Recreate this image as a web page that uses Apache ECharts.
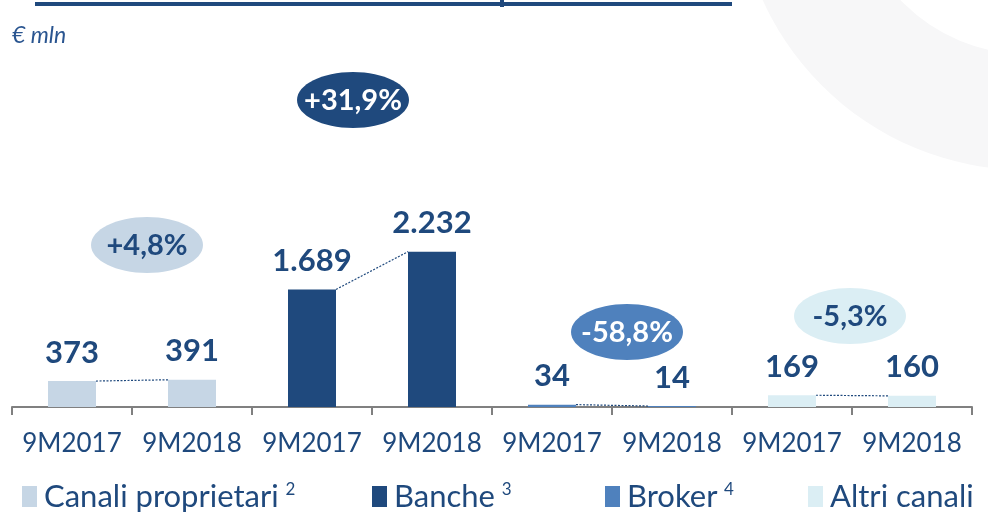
<!DOCTYPE html>
<html lang="it">
<head>
	<meta charset="UTF-8">
	<title>Raccolta per canale</title>
	<style>
		html, body { margin: 0; padding: 0; background: #fff; }
	</style>
</head>
<body>
	<div id="main" style="width: 988px;height: 512px"></div>
	<script src="https://cdn.jsdelivr.net/npm/echarts@6/dist/echarts.min.js"></script>
	<script>
		// dati (€ mln)
		var categories = ['9M2017', '9M2018', '9M2017', '9M2018', '9M2017', '9M2018', '9M2017', '9M2018'];
		var canali = [373, 391];
		var banche = [1689, 2232];
		var broker = [34, 14];
		var altri = [169, 160];
		var seriesNames = ['Canali proprietari', 'Banche', 'Broker', 'Altri canali'];
		var notes = ['2', '3', '4', ''];
		var changes = ['+4,8%', '+31,9%', '-58,8%', '-5,3%'];

		var colors = ['#c6d6e5', '#1f497d', '#4f81bd', '#dbeef4'];
		var textBlue = '#1f497d';
		var font = 'Lato';

		var groups = [canali, banche, broker, altri];

		// ogni canale occupa due categorie
		function place(values, start) {
			var out = categories.map(function () { return '-'; });
			out[start] = values[0];
			out[start + 1] = values[1];
			return out;
		}

		function fmt(v) {
			return String(v).replace(/\B(?=(\d{3})+(?!\d))/g, '.');
		}

		var barSeries = groups.map(function (vals, i) {
			return {
				name: seriesNames[i],
				type: 'bar',
				stack: 'all',
				barWidth: 48,
				data: place(vals, i * 2),
				itemStyle: { color: colors[i] },
				label: {
					show: true,
					position: 'top',
					distance: 13,
					color: textBlue,
					fontFamily: font,
					fontWeight: 'bold',
					fontSize: 31,
					formatter: function (p) { return fmt(p.value); }
				}
			};
		});

		// linee tratteggiate tra le due barre di ogni canale
		var linkData = groups.map(function (vals, i) {
			return [i * 2, vals[0], i * 2 + 1, vals[1]];
		});

		var linkSeries = {
			type: 'custom',
			silent: true,
			encode: { x: [0, 2], y: [1, 3] },
			data: linkData,
			z: 5,
			renderItem: function (params, api) {
				var a = api.coord([api.value(0), api.value(1)]);
				var b = api.coord([api.value(2), api.value(3)]);
				var half = 24;
				return {
					type: 'line',
					shape: { x1: a[0] + half, y1: a[1], x2: b[0] - half, y2: b[1] },
					style: { stroke: textBlue, lineWidth: 1.2, lineDash: [2, 1.5] }
				};
			}
		};

		// badge con la variazione percentuale
		var badgePos = [[147, 245], [353, 100], [627, 332], [850, 316]];
		var badgeText = ['#1f497d', '#ffffff', '#ffffff', '#1f497d'];
		var badges = changes.map(function (t, i) {
			return {
				type: 'group',
				x: badgePos[i][0],
				y: badgePos[i][1],
				children: [
					{ type: 'ellipse', shape: { cx: 0, cy: 0, rx: 56, ry: 28 }, style: { fill: colors[i] } },
					{
						type: 'text',
						style: {
							text: t, x: 0, y: 1, align: 'center', verticalAlign: 'middle',
							fill: badgeText[i], font: 'bold 29px ' + font
						}
					}
				]
			};
		});

		var legendLeft = [22, 372, 605, 808];
		var legends = seriesNames.map(function (n, i) {
			return {
				data: [n],
				left: legendLeft[i],
				top: 481,
				padding: 0,
				itemWidth: 15,
				itemHeight: 21,
				itemGap: 0,
				icon: 'rect',
				selectedMode: false,
				formatter: function (name) {
					var k = seriesNames.indexOf(name);
					return notes[k] ? '{n|' + name + '}  {s|' + notes[k] + '}' : '{n|' + name + '}';
				},
				textStyle: {
					padding: [0, 0, 0, 2],
					rich: {
						n: { fontFamily: font, fontSize: 31, color: textBlue },
						s: { fontFamily: font, fontSize: 17, color: textBlue, padding: [0, 0, 14, 0] }
					}
				}
			};
		});

		var myChart = echarts.init(document.getElementById('main'));
		var option = {
			animation: false,
			backgroundColor: '#ffffff',
			grid: { left: 12, right: 16, top: 59, bottom: 105 },
			legend: legends,
			xAxis: {
				type: 'category',
				data: categories,
				axisLine: { lineStyle: { color: '#808080', width: 2 } },
				axisTick: { show: true, length: 8, lineStyle: { color: '#808080', width: 2 } },
				axisLabel: { interval: 0, color: textBlue, fontFamily: font, fontSize: 26, margin: 24 }
			},
			yAxis: {
				type: 'value',
				min: 0,
				max: 5000,
				show: false,
				splitLine: { show: false }
			},
			graphic: [
				{
					type: 'ring',
					z: -10,
					shape: { cx: 1026, cy: -119, r: 289, r0: 173 },
					style: { fill: '#f7f7f8' }
				},
				{ type: 'rect', shape: { x: 35, y: 2, width: 697, height: 4 }, style: { fill: '#1f497d' } },
				{ type: 'rect', shape: { x: 500, y: 0, width: 4, height: 7 }, style: { fill: '#1f497d' } },
				{
					type: 'text',
					x: 12, y: 36,
					style: { text: '€ mln', fill: '#2a5590', font: 'italic 23px ' + font, verticalAlign: 'middle' }
				}
			].concat(badges),
			series: barSeries.concat([linkSeries])
		};

		myChart.setOption(option);
	</script>
</body>
</html>
